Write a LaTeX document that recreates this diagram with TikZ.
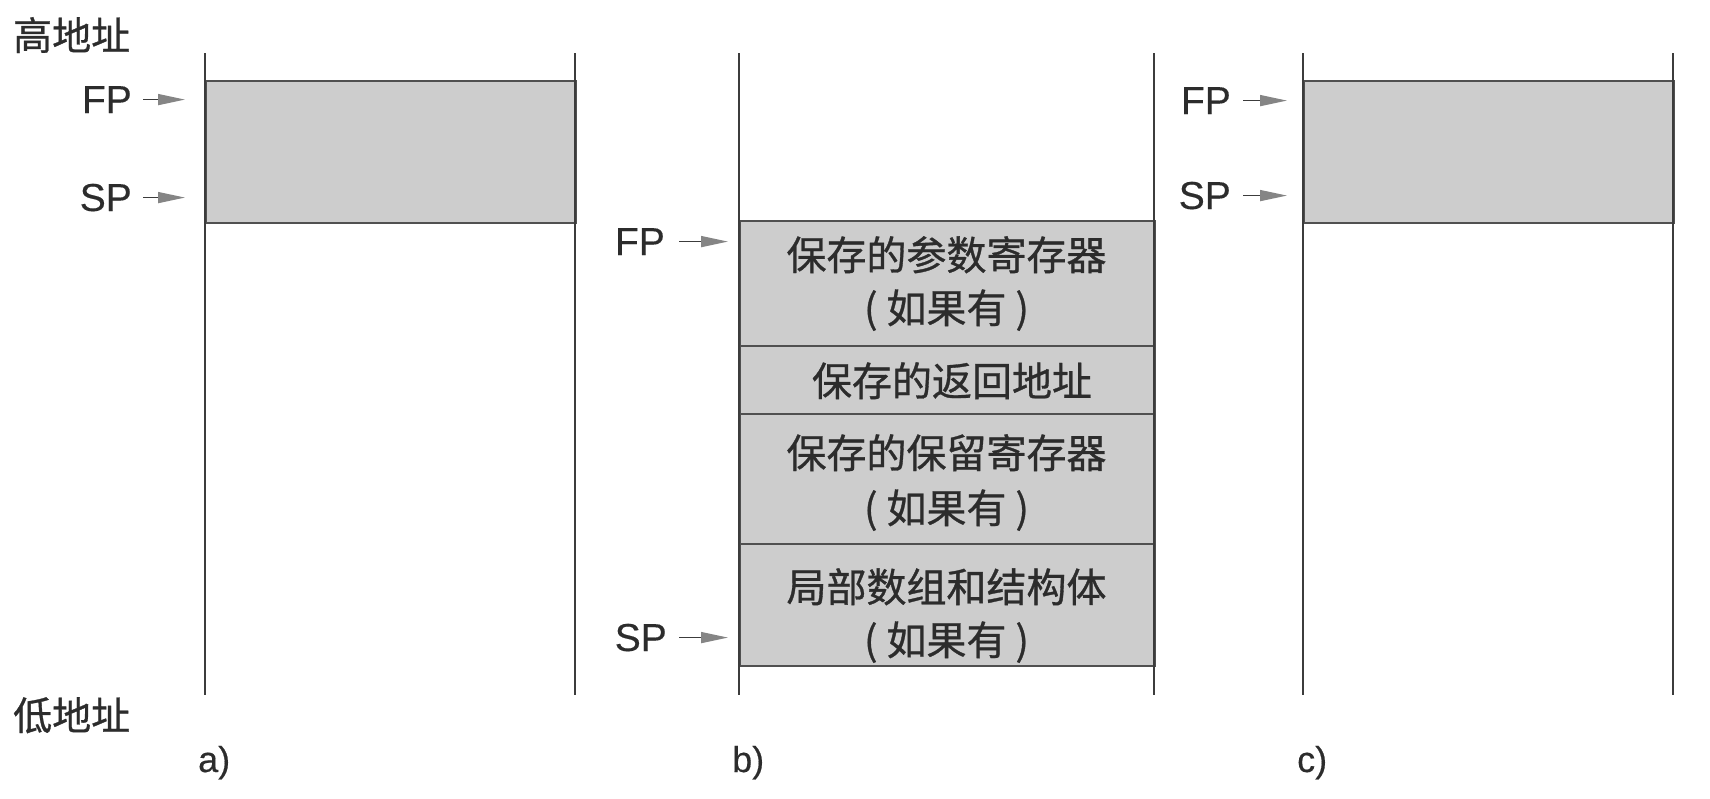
\documentclass[tikz,border=0pt]{standalone}
\usepackage{fontspec}
\setmainfont[FakeBold=0.4]{Liberation Sans}
\newfontfamily\cjk[FakeBold=0.8]{Noto Sans CJK SC}
\usetikzlibrary{arrows.meta}
\definecolor{ink}{HTML}{2C2C2C}
\definecolor{cellgray}{HTML}{CDCDCD}
\definecolor{linegray}{HTML}{3C3C3C}
\definecolor{bordergray}{HTML}{505050}
\definecolor{headgray}{HTML}{858585}
\begin{document}
\begin{tikzpicture}[x=1pt,y=-1pt,
  col/.style={draw=linegray, line width=2.4pt},
  cell/.style={fill=cellgray, draw=bordergray, line width=2.2pt, inner sep=0pt, anchor=north west},
  lbl/.style={font=\fontsize{39}{39}\selectfont, text=ink, inner sep=0pt, anchor=base east},
  sub/.style={font=\fontsize{36}{36}\selectfont, text=ink, inner sep=0pt, anchor=base west},
  cjklbl/.style={font=\cjk\fontsize{39}{39}\selectfont, text=ink, inner sep=0pt, anchor=base west},
  celltext/.style={font=\cjk\fontsize{40}{40}\selectfont, text=ink, inner sep=0pt, anchor=base},
  ptr/.style={draw=linegray, line width=1.6pt, -{Triangle[length=27pt,width=11pt,color=headgray]}},
]
\useasboundingbox (0,0) rectangle (1710,798);

% ---- cells ----
\node[cell, minimum width=370pt, minimum height=142pt] (cellA) at (205,80) {};
\node[cell, minimum width=415pt, minimum height=125pt] (b1) at (739,220) {};
\node[cell, minimum width=415pt, minimum height=68pt]  (b2) at (739,345) {};
\node[cell, minimum width=415pt, minimum height=130pt] (b3) at (739,413) {};
\node[cell, minimum width=415pt, minimum height=122pt] (b4) at (739,543) {};
\node[cell, minimum width=370pt, minimum height=142pt] (cellC) at (1303,80) {};

% ---- column lines ----
\foreach \x in {205,575,739,1154,1303,1673}
  \draw[col] (\x,53) -- (\x,695);

% ---- cell texts ----
\node[celltext] (t1a) at (946.5,270) {保存的参数寄存器};
\node[celltext] (t1b) at (946.5,323) {( 如果有 )};
\node[celltext] (t2)  at (952,396) {保存的返回地址};
\node[celltext] (t3a) at (946.5,468) {保存的保留寄存器};
\node[celltext] (t3b) at (946.5,523) {( 如果有 )};
\node[celltext] (t4a) at (946.5,602) {局部数组和结构体};
\node[celltext] (t4b) at (946.5,655) {( 如果有 )};

% ---- address labels ----
\node[cjklbl] (high) at (13,50) {高地址};
\node[cjklbl] (low)  at (13,730) {低地址};

% ---- sub captions ----
\node[sub] (capA) at (198,772) {a)};
\node[sub] (capB) at (732,772) {b)};
\node[sub] (capC) at (1297,772) {c)};

% ---- pointers ----
\coordinate (tA) at (185,0);
\coordinate (tB) at (728,0);
\coordinate (tC) at (1287,0);

\node[lbl] (fpA) at (132,113) {FP};
\node[lbl] (spA) at (132,211) {SP};
\draw[ptr] ([xshift=11pt]fpA.east) -- (fpA.east -| tA);
\draw[ptr] ([xshift=11pt]spA.east) -- (spA.east -| tA);

\node[lbl] (fpB) at (665,255) {FP};
\node[lbl] (spB) at (667,651) {SP};
\draw[ptr] ([xshift=14pt]fpB.east) -- (fpB.east -| tB);
\draw[ptr] ([xshift=12pt]spB.east) -- (spB.east -| tB);

\node[lbl] (fpC) at (1231,114) {FP};
\node[lbl] (spC) at (1231,209) {SP};
\draw[ptr] ([xshift=12pt]fpC.east) -- (fpC.east -| tC);
\draw[ptr] ([xshift=12pt]spC.east) -- (spC.east -| tC);
\end{tikzpicture}
\end{document}
